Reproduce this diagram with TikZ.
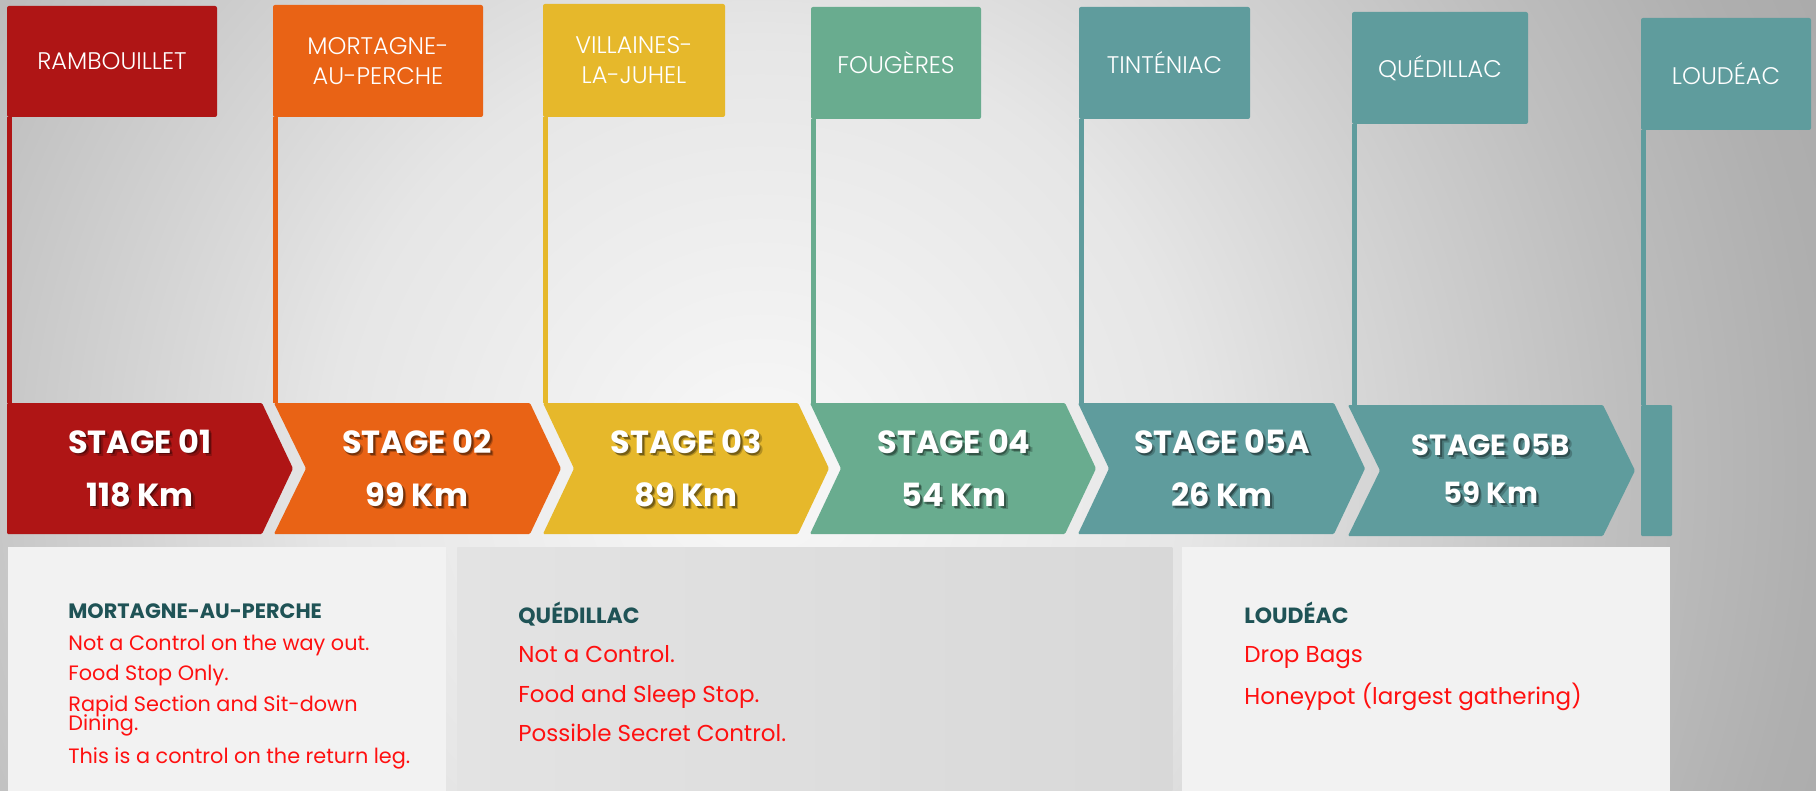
\documentclass[tikz,border=0pt]{standalone}
\usepackage{fontspec}
\setmainfont{Poppins}
\newfontfamily\lightfont{Poppins Light}

% stage colours
\definecolor{stRed}{HTML}{AF1515}
\definecolor{stOrange}{HTML}{E96315}
\definecolor{stYellow}{HTML}{E6B82B}
\definecolor{stGreen}{HTML}{69AC8F}
\definecolor{stTeal}{HTML}{5F9C9D}
% text and panel colours
\definecolor{headTeal}{HTML}{1F5356}
\definecolor{noteRed}{HTML}{FF1010}
\definecolor{boxLight}{HTML}{F2F2F2}
\definecolor{boxMidL}{HTML}{E3E3E3}
\definecolor{boxMidR}{HTML}{D8D8D8}
% backdrop glow
\definecolor{bg0}{HTML}{F8F8F8}
\definecolor{bg1}{HTML}{E6E6E6}
\definecolor{bg2}{HTML}{BEBEBE}
\definecolor{bg3}{HTML}{AFAFAF}
\definecolor{bg4}{HTML}{A9A9A9}

\pgfdeclareradialshading{bgglow}{\pgfpoint{0bp}{0bp}}{%
  color(0bp)=(bg0); color(9bp)=(bg1); color(18bp)=(bg2);
  color(22bp)=(bg3); color(25bp)=(bg4); color(50bp)=(bg4)}

\newcommand\stagelabel[5]{%
  \node[stageshadow,text opacity=.22,#5] (#1s2) at (#2+3.2,#3+3.2) {#4};
  \node[stageshadow,#5] (#1s) at (#2+1.8,#3+1.8) {#4};
  \node[stagetxt,#5] (#1) at (#2,#3) {#4};}

\begin{document}
\begin{tikzpicture}[x=0.5pt,y=-0.5pt,
  flagbox/.style={fill=#1, rounded corners=1pt, inner sep=0pt, text=white,
    align=center, font=\lightfont\fontsize{12}{15}\selectfont},
  stagetxt/.style={text=white, inner sep=0pt, align=center,
    font=\bfseries\fontsize{16}{26.5}\selectfont},
  smallstage/.style={font=\bfseries\fontsize{14.6}{24}\selectfont},
  stageshadow/.style={stagetxt, text=black, text opacity=.35},
  arrowshape/.style={fill=#1, rounded corners=0.6pt},
  infobox/.style={anchor=north west, inner sep=0pt, minimum height=122pt},
  heading/.style={anchor=base west, inner sep=0pt, text=headTeal,
    font=\bfseries\fontsize{11}{13}\selectfont},
  smallheading/.style={heading, font=\bfseries\fontsize{10.4}{13}\selectfont},
  note/.style={anchor=base west, inner sep=0pt, text=noteRed,
    font=\fontsize{10.4}{13}\selectfont},
  bignote/.style={note, font=\fontsize{11.5}{14}\selectfont}]

\useasboundingbox (0,0) rectangle (1816,791);

% grey backdrop, brightest just left of centre
\begin{scope}
  \clip (0,0) rectangle (1816,791);
  \shade[shading=bgglow] (760,470) circle (1200);
\end{scope}

% notes panels
\node[infobox, fill=boxLight, minimum width=219pt] (b1) at (8,547) {};
\node[infobox, left color=boxMidL, right color=boxMidR, minimum width=357.5pt] (b2) at (457,547) {};
\node[infobox, fill=boxLight, minimum width=244pt] (b3) at (1182,547) {};

% pole feet on top of each stage
\coordinate (a1) at (7,403);
\coordinate (a2) at (273,403);
\coordinate (a3) at (543,403);
\coordinate (a4) at (811,403);
\coordinate (a5) at (1079,403);
\coordinate (a6) at (1352,405);
\coordinate (a7) at (1641,405);

% stage chevrons
\fill[arrowshape=stRed] (7,403) -- (262,403) -- (293,468.5) -- (262,534) -- (7,534) -- cycle;
\fill[arrowshape=stOrange] (274,403) -- (530,403) -- (561,468.5) -- (530,534) -- (274,534) -- (306,468.5) -- cycle;
\fill[arrowshape=stYellow] (543,403) -- (798,403) -- (829,468.5) -- (798,534) -- (543,534) -- (574,468.5) -- cycle;
\fill[arrowshape=stGreen] (810,403) -- (1065,403) -- (1096,468.5) -- (1065,534) -- (810,534) -- (841,468.5) -- cycle;
\fill[arrowshape=stTeal] (1078,403) -- (1334,403) -- (1365,468.5) -- (1334,534) -- (1078,534) -- (1109,468.5) -- cycle;
\fill[arrowshape=stTeal] (1348,405) -- (1603,405) -- (1635,470.5) -- (1603,536) -- (1348,536) -- (1380,470.5) -- cycle;
\fill[arrowshape=stTeal] (1641,405) rectangle (1672,536);

% flags
\node[flagbox=stRed, minimum width=105pt, minimum height=55.5pt] (f1) at (112,61.5) {RAMBOUILLET};
\node[flagbox=stOrange, minimum width=105pt, minimum height=56pt] (f2) at (378,61) {MORTAGNE-\\AU-PERCHE};
\node[flagbox=stYellow, minimum width=91pt, minimum height=56.5pt] (f3) at (634,60.5) {VILLAINES-\\LA-JUHEL};
\node[flagbox=stGreen, minimum width=85pt, minimum height=56pt] (f4) at (896,63) {FOUGÈRES};
\node[flagbox=stTeal, minimum width=85.5pt, minimum height=56pt] (f5) at (1164.5,63) {TINTÉNIAC};
\node[flagbox=stTeal, minimum width=88pt, minimum height=56pt] (f6) at (1440,68) {QUÉDILLAC};
\node[flagbox=stTeal, minimum width=85pt, minimum height=56pt] (f7) at (1726,74) {LOUDÉAC};

% flag poles, from each flag down to its stage
\fill[stRed] (f1.south west) rectangle ([xshift=2.5pt]a1);
\fill[stOrange] (f2.south west) rectangle ([xshift=2.5pt]a2);
\fill[stYellow] (f3.south west) rectangle ([xshift=2.5pt]a3);
\fill[stGreen] (f4.south west) rectangle ([xshift=2.5pt]a4);
\fill[stTeal] (f5.south west) rectangle ([xshift=2.5pt]a5);
\fill[stTeal] (f6.south west) rectangle ([xshift=2.5pt]a6);
\fill[stTeal] (f7.south west) rectangle ([xshift=2.5pt]a7);

% stage labels
\stagelabel{t1}{140}{468}{STAGE 01\\118 Km}{}
\stagelabel{t2}{417}{468}{STAGE 02\\99 Km}{}
\stagelabel{t3}{686}{468}{STAGE 03\\89 Km}{}
\stagelabel{t4}{954}{468}{STAGE 04\\54 Km}{}
\stagelabel{t5}{1222}{468}{STAGE 05A\\26 Km}{}
\stagelabel{t6}{1491}{469}{STAGE 05B\\59 Km}{smallstage}

% notes: Mortagne-au-Perche
\node[smallheading] (h1) at (68,618.5) {MORTAGNE-AU-PERCHE};
\node[note] (n11) at (68,650.5) {Not a Control on the way out.};
\node[note] (n12) at (68,680.5) {Food Stop Only.};
\node[note] (n13) at (68,711.5) {Rapid Section and Sit-down};
\node[note] (n14) at (68,730.5) {Dining.};
\node[note] (n15) at (68,763.5) {This is a control on the return leg.};

% notes: Quedillac
\node[heading] (h2) at (518,623.5) {QUÉDILLAC};
\node[bignote] (n21) at (518,662) {Not a Control.};
\node[bignote] (n22) at (518,702) {Food and Sleep Stop.};
\node[bignote] (n23) at (518,741) {Possible Secret Control.};

% notes: Loudeac
\node[heading] (h3) at (1244,623.5) {LOUDÉAC};
\node[bignote] (n31) at (1244,662) {Drop Bags};
\node[bignote] (n32) at (1244,704) {Honeypot (largest gathering)};

\end{tikzpicture}
\end{document}
